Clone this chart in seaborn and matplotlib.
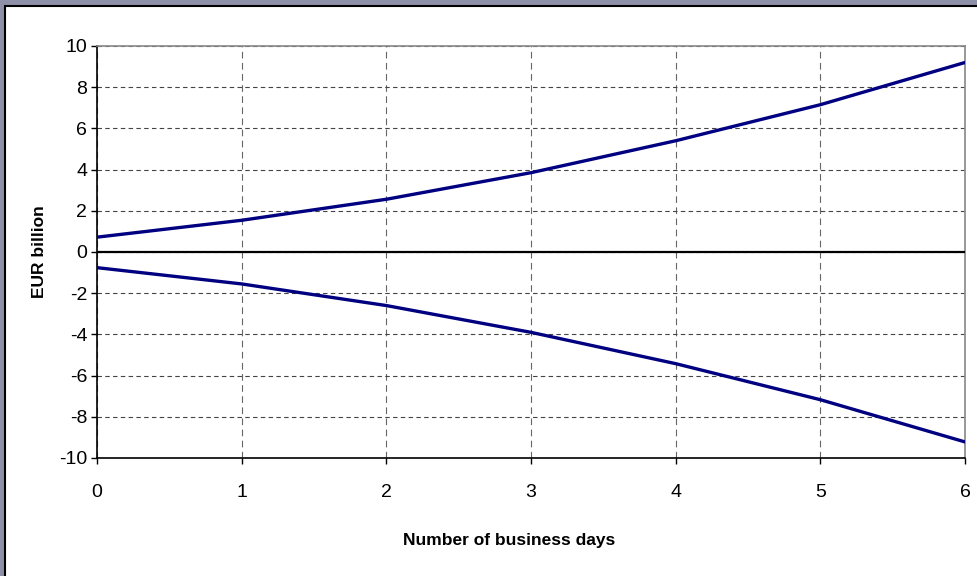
import matplotlib
matplotlib.use("Agg")
import matplotlib.pyplot as plt
import matplotlib.patches as mpatches
import numpy as np
import pandas as pd
import seaborn as sns

# Business days and the upper / lower bands (EUR billion)
days = [0, 1, 2, 3, 4, 5, 6]
upper = [0.72, 1.54, 2.56, 3.85, 5.40, 7.15, 9.20]
lower = [-0.76, -1.55, -2.60, -3.90, -5.42, -7.17, -9.22]

x_ticks = [0, 1, 2, 3, 4, 5, 6]
y_ticks = [-10, -8, -6, -4, -2, 0, 2, 4, 6, 8, 10]

df = pd.DataFrame({
    "day": days * 2,
    "value": upper + lower,
    "band": ["upper"] * len(days) + ["lower"] * len(days),
})

sns.set_theme(style="white")
plt.rcParams["font.family"] = ["Liberation Sans", "DejaVu Sans"]

W, H = 977, 576
fig = plt.figure(figsize=(W / 100, H / 100), dpi=100)
fig.patch.set_facecolor("#8E90A8")

# white panel with a thin black frame, kept behind the axes
panel = mpatches.Rectangle((5 / W, -0.01), 1.0, 1 - 6 / H + 0.01,
                           transform=fig.transFigure, facecolor="white",
                           edgecolor="black", linewidth=1.5, zorder=-10)
fig.patches.append(panel)

ax = fig.add_axes([97 / W, 1 - 458 / H, (965 - 97) / W, (458 - 46) / H])
ax.set_zorder(5)
ax.set_facecolor("white")

sns.lineplot(data=df, x="day", y="value", hue="band", units="band",
             estimator=None, palette={"upper": "#000080", "lower": "#000080"},
             linewidth=2.4, legend=False, ax=ax, zorder=5)

ax.set_xlim(0, 6)
ax.set_ylim(-10, 10)
ax.set_xticks(x_ticks)
ax.set_yticks(y_ticks)
ax.set_xticklabels([str(t) for t in x_ticks], fontsize=14)
ax.set_yticklabels([str(t) for t in y_ticks], fontsize=14)

ax.grid(True, axis="y", linestyle=(0, (4, 3)), color="#444444", linewidth=0.8)
ax.grid(True, axis="x", linestyle=(0, (6, 4)), color="#666666", linewidth=0.8)
ax.set_axisbelow(True)
ax.axhline(0, color="black", linewidth=1.6, zorder=4)

for side in ["left", "bottom"]:
    ax.spines[side].set_color("black")
    ax.spines[side].set_linewidth(1.2)
for side in ["top", "right"]:
    ax.spines[side].set_color("#888888")
    ax.spines[side].set_linewidth(1.2)
    ax.spines[side].set_visible(True)

ax.tick_params(axis="both", which="both", length=4, width=1, color="black",
               direction="out", pad=3, left=True, bottom=True, labelcolor="black")
ax.tick_params(axis="x", pad=15)

ax.set_xlabel("")
ax.set_ylabel("")
fig.text(509 / W, 1 - 540 / H, "Number of business days", fontsize=12.5,
         fontweight="bold", ha="center", va="center", color="black")
fig.text(40 / W, 1 - 252 / H, "EUR billion", fontsize=12.5,
         fontweight="bold", ha="center", va="center", rotation=90, color="black")

fig.savefig("out.png", dpi=100, facecolor=fig.get_facecolor())
